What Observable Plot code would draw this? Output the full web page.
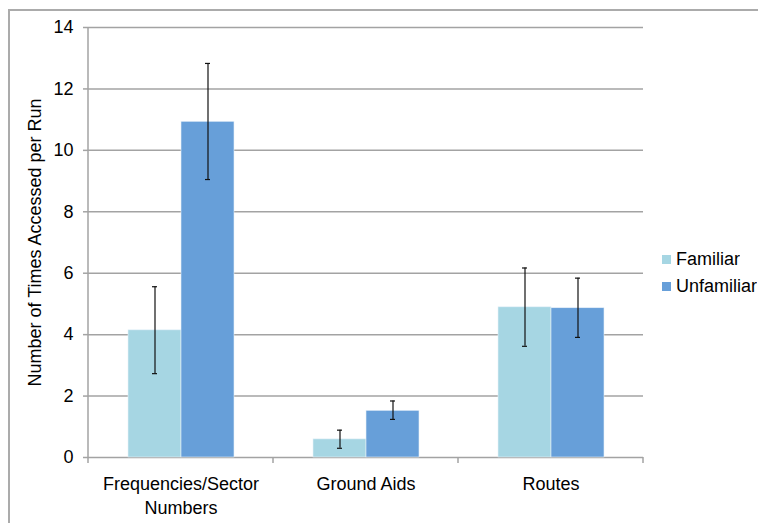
<!DOCTYPE html>
<html><head><meta charset="utf-8">
<script src="https://cdn.jsdelivr.net/npm/d3@7"></script>
<script src="https://cdn.jsdelivr.net/npm/@observablehq/plot@0.6"></script>
<style>
html,body{margin:0;padding:0;background:#fff;}
#wrap{position:relative;width:758px;height:523px;overflow:hidden;font-family:"Liberation Sans",Arial,sans-serif;}
#border{position:absolute;left:8px;top:9px;width:800px;height:600px;border:2px solid #ababab;box-sizing:border-box;}
#chart{position:absolute;left:0;top:0;}
#legend{position:absolute;left:662px;top:246px;width:100px;}
#legend svg{margin-right:5px !important;}
#legend *{white-space:nowrap;}
</style></head><body><div id="wrap"><div id="border"></div><div id="chart"></div><div id="legend"></div></div>
<script>
const categories = ["Frequencies/Sector\nNumbers", "Ground Aids", "Routes"];
const series = ["Familiar", "Unfamiliar"];
const familiarMean = [4.14, 0.59, 4.89];
const familiarLow = [2.73, 0.30, 3.62];
const familiarHigh = [5.56, 0.89, 6.17];
const unfamiliarMean = [10.93, 1.52, 4.86];
const unfamiliarLow = [9.05, 1.24, 3.91];
const unfamiliarHigh = [12.83, 1.84, 5.84];
const yTicks = [0, 2, 4, 6, 8, 10, 12, 14];
const colors = ["#a6d6e3", "#679fd9"];
const yLabel = "Number of Times Accessed per Run";

const rows = [];
categories.forEach((c, i) => {
  rows.push({category: c, series: series[0], mean: familiarMean[i], low: familiarLow[i], high: familiarHigh[i]});
  rows.push({category: c, series: series[1], mean: unfamiliarMean[i], low: unfamiliarLow[i], high: unfamiliarHigh[i]});
});

const font = "Liberation Sans, Arial, sans-serif";
const gray = "#a3a3a3";

const chart = Plot.plot({
  width: 758, height: 523,
  marginLeft: 88, marginRight: 115, marginTop: 27, marginBottom: 66,
  style: {fontFamily: font, fontSize: "18px", color: "#000", background: "transparent"},
  fx: {domain: categories, padding: 0, label: null},
  x: {domain: series, paddingInner: 0, paddingOuter: 0.745, axis: null},
  y: {domain: [0, 14], ticks: yTicks, label: yLabel},
  color: {domain: series, range: colors},
  marks: [
    Plot.gridY(yTicks, {stroke: gray, strokeOpacity: 1, strokeWidth: 1.5}),
    Plot.barY(rows, {fx: "category", x: "series", y: "mean", fill: "series", stroke: "#e6f0f8", strokeWidth: 0.6}),
    Plot.ruleX(rows, {fx: "category", x: "series", y1: "low", y2: "high", stroke: "#111", strokeWidth: 1.2}),
    Plot.tickY(rows, {fx: "category", x: "series", y: "low", stroke: "#111", strokeWidth: 1.2, insetLeft: 24, insetRight: 24}),
    Plot.tickY(rows, {fx: "category", x: "series", y: "high", stroke: "#111", strokeWidth: 1.2, insetLeft: 24, insetRight: 24}),
    Plot.axisY(yTicks, {tickSize: 5, tickPadding: 10, stroke: gray, strokeWidth: 1.5, fill: "#000", fontSize: 18,
      label: yLabel, labelAnchor: "center", labelOffset: 60, labelArrow: false}),
    Plot.axisFx({anchor: "bottom", tickSize: 0, tickPadding: 15, fontSize: 18, lineHeight: 1.35, fill: "#000", label: null})
  ]
});

// axis line and category boundary ticks derived from scales
const fx = chart.scale("fx");
const y = chart.scale("y");
const svg = d3.select(chart.tagName.toLowerCase() === "svg" ? chart : chart.querySelector("svg"));
const y0 = y.apply(0), yTop = y.apply(14);
const g = svg.append("g").attr("stroke", gray).attr("stroke-width", 1.5);
const bounds = categories.map(c => fx.apply(c)).concat([fx.apply(categories[categories.length - 1]) + fx.bandwidth]);
g.append("line").attr("x1", bounds[0]).attr("x2", bounds[0]).attr("y1", yTop).attr("y2", y0);
bounds.forEach(b => g.append("line").attr("x1", b).attr("x2", b).attr("y1", y0).attr("y2", y0 + 6));

document.getElementById("chart").appendChild(chart);

const legend = chart.legend("color", {columns: 1, swatchSize: 9,
  style: {fontFamily: font, fontSize: "18px", color: "#000", lineHeight: "26px"}});
document.getElementById("legend").appendChild(legend);
</script>
</body></html>
